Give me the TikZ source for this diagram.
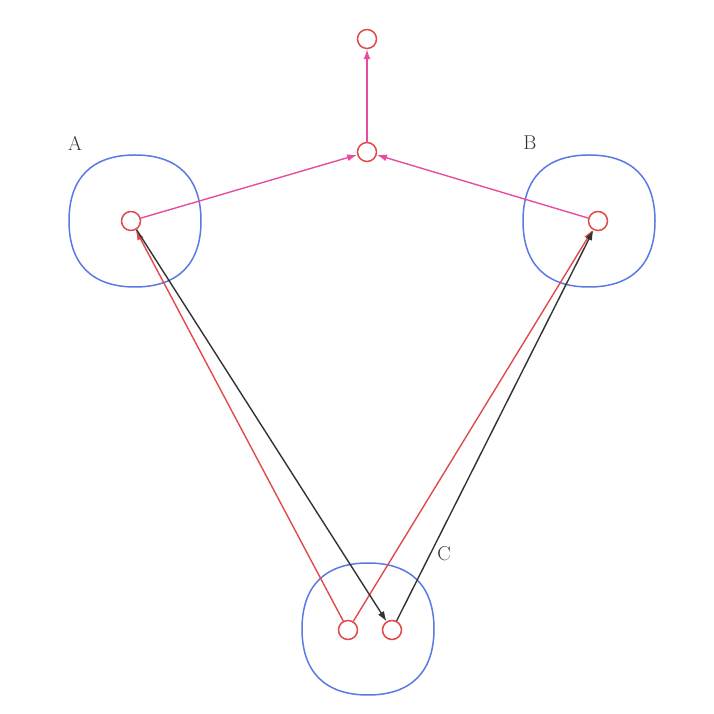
\documentclass[tikz,border=0pt]{standalone}
\usetikzlibrary{arrows.meta}
\definecolor{nodered}{HTML}{E04A4A}
\definecolor{clblue}{HTML}{5B78E4}
\definecolor{pinkedge}{HTML}{E84CA0}
\definecolor{darkedge}{HTML}{333333}
\definecolor{labelgray}{HTML}{333333}
\tikzset{
  vtx/.style={circle, draw=nodered, line width=1.5pt, minimum size=19pt, inner sep=0pt, fill=white},
  clusterline/.style={draw=clblue, line width=1.5pt},
  clabel/.style={text=labelgray, font=\fontsize{20}{24}\selectfont, inner sep=0pt},
  tip/.style={-{Latex[length=10pt,width=7pt]}},
  pinkarrow/.style={tip, draw=pinkedge, line width=1.4pt},
  redarrow/.style={tip, draw=nodered, line width=1.4pt},
  darkarrow/.style={tip, draw=darkedge, line width=1.4pt},
}
\newcommand\squirclepath{(66,0) .. controls (66,43) and (43,66) .. (0,66)
  .. controls (-43,66) and (-66,43) .. (-66,0)
  .. controls (-66,-43) and (-43,-66) .. (0,-66)
  .. controls (43,-66) and (66,-43) .. (66,0) -- cycle}
\begin{document}
\begin{tikzpicture}[x=1pt,y=1pt]
\useasboundingbox (0,0) rectangle (713,714);
% clusters
\draw[clusterline, shift={(135,493)}] \squirclepath;
\draw[clusterline, shift={(589,493)}] \squirclepath;
\draw[clusterline, shift={(368,85)}] \squirclepath;
% labels
\node[clabel] (lA) at (75,571) {A};
\node[clabel] (lB) at (530,571) {B};
\node[clabel] (lC) at (444,160) {C};
% vertices
\node[vtx] (top) at (367,675) {};
\node[vtx] (mid) at (367,562) {};
\node[vtx] (a) at (131,493) {};
\node[vtx] (b) at (598,493) {};
\node[vtx] (c1) at (348,84) {};
\node[vtx] (c2) at (392,84) {};
% edges
\draw[pinkarrow] (mid) -- (top);
\draw[pinkarrow] (a) -- (mid);
\draw[pinkarrow] (b) -- (mid);
\draw[redarrow] (c1) -- (a);
\draw[redarrow] (c1) -- (b);
\draw[darkarrow] (a) -- (c2);
\draw[darkarrow] (c2) -- (b);
\end{tikzpicture}
\end{document}
